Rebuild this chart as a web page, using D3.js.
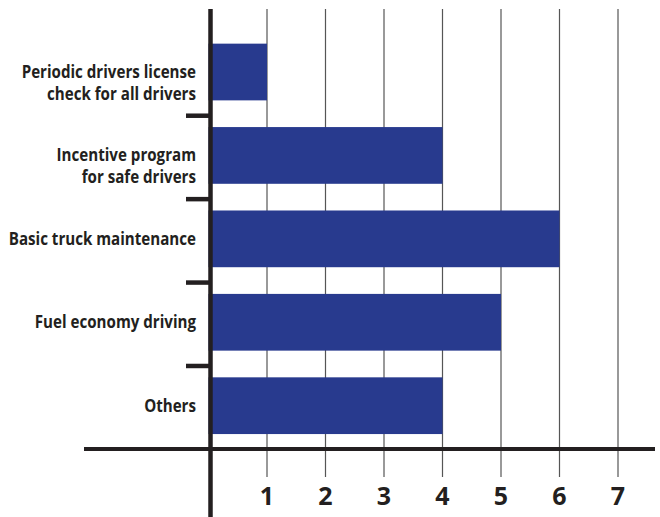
<!DOCTYPE html>
<html>
<head>
<meta charset="utf-8">
<script src="https://cdn.jsdelivr.net/npm/d3@7"></script>
<style>
  body { margin: 0; background: #fff; }
  text { font-family: "Open Sans", "DejaVu Sans", sans-serif; font-weight: bold; fill: #231f20; }
</style>
</head>
<body>
<div id="chart"></div>
<script>
// chart data
const categories = [
  ["Periodic drivers license", "check for all drivers"],
  ["Incentive program", "for safe drivers"],
  ["Basic truck maintenance"],
  ["Fuel economy driving"],
  ["Others"]
];
const values = [1, 4, 6, 5, 4];
const tickValues = [1, 2, 3, 4, 5, 6, 7];

const width = 660;
const height = 517;

const svg = d3.select('#chart')
  .append('svg')
  .attr('width', width)
  .attr('height', height);

const x = d3.scaleLinear().domain([0, 7]).range([208.5, 618]);
const y = d3.scaleBand()
  .domain(d3.range(categories.length))
  .range([30.3, 447.4])
  .paddingInner(0.32)
  .paddingOuter(0.16);

const axisY = 449;

// grid lines
svg.append('g')
  .selectAll('line')
  .data(tickValues)
  .join('line')
  .attr('x1', d => x(d))
  .attr('x2', d => x(d))
  .attr('y1', 9)
  .attr('y2', 477)
  .attr('stroke', '#555')
  .attr('stroke-width', 1.2);

// bars
svg.append('g')
  .selectAll('rect')
  .data(values)
  .join('rect')
  .attr('x', x(0))
  .attr('y', (d, i) => y(i))
  .attr('width', d => x(d) - x(0))
  .attr('height', y.bandwidth())
  .attr('fill', '#283a8e');

// horizontal axis line
svg.append('line')
  .attr('x1', 84).attr('x2', 655)
  .attr('y1', axisY).attr('y2', axisY)
  .attr('stroke', '#231f20')
  .attr('stroke-width', 4);

// category separators (sit a little below the gap middle)
const seps = d3.range(1, categories.length).map(i => y(i) - y.step() * y.paddingInner() / 2 + 2);
svg.append('g')
  .selectAll('line')
  .data(seps)
  .join('line')
  .attr('x1', 186).attr('x2', 210)
  .attr('y1', d => d).attr('y2', d => d)
  .attr('stroke', '#231f20')
  .attr('stroke-width', 4.5);

// vertical axis line
svg.append('line')
  .attr('x1', 210.5).attr('x2', 210.5)
  .attr('y1', 9).attr('y2', 517)
  .attr('stroke', '#231f20')
  .attr('stroke-width', 4.5);

// tick labels
svg.append('g')
  .selectAll('text')
  .data(tickValues)
  .join('text')
  .attr('x', d => x(d))
  .attr('y', 505)
  .attr('text-anchor', 'middle')
  .attr('font-size', '25px')
  .text(d => d);

// category labels, squeezed sideways to look condensed
const labels = svg.append('g')
  .attr('transform', 'translate(196,0) scale(0.89,1)')
  .selectAll('text')
  .data(categories)
  .join('text')
  .attr('text-anchor', 'end')
  .attr('font-size', '17px')
  .attr('y', (d, i) => y(i) + y.bandwidth() / 2 + 6);

labels.selectAll('tspan')
  .data(d => d)
  .join('tspan')
  .attr('x', 0)
  .attr('dy', (d, i) => i === 0 ? 0 : 21.5)
  .text(d => d);
</script>
</body>
</html>
